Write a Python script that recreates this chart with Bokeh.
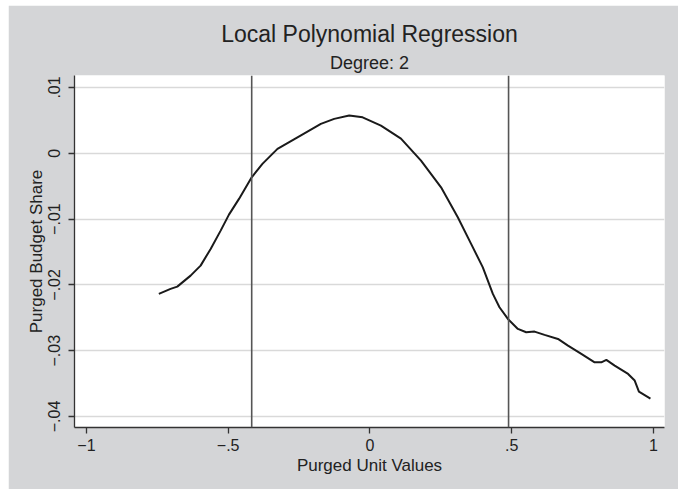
from bokeh.plotting import figure
from bokeh.layouts import row, column
from bokeh.models import Title, Span, FixedTicker, Range1d, Spacer
from bokeh.embed import file_html
from bokeh.resources import INLINE

# ---- data ----
x_vals = [-0.7445, -0.7032, -0.6795, -0.6325, -0.5972, -0.5618, -0.5265, -0.4972,
          -0.4618, -0.4170, -0.3792, -0.3261, -0.2555, -0.1731, -0.1261, -0.0731,
          -0.0258, 0.0389, 0.1095, 0.1802, 0.2509, 0.3099, 0.3569, 0.3982, 0.4336,
          0.4569, 0.4866, 0.5219, 0.5512, 0.5806, 0.6159, 0.6633, 0.6986, 0.7456,
          0.7926, 0.8163, 0.8339, 0.8633, 0.9106, 0.9339, 0.9488, 0.9894]
y_vals = [-0.02137, -0.02061, -0.02026, -0.01859, -0.01707, -0.01453, -0.01175, -0.00932,
          -0.00693, -0.00365, -0.00161, 0.00067, 0.00243, 0.00447, 0.00523, 0.00573,
          0.00547, 0.00421, 0.00223, -0.00111, -0.00517, -0.00973, -0.01377, -0.01733, -0.02137,
          -0.02340, -0.02517, -0.02669, -0.02720, -0.02710, -0.02760, -0.02821, -0.02923, -0.03049,
          -0.03176, -0.03176, -0.03140, -0.03226, -0.03353, -0.03454, -0.03622, -0.03728]
vlines = [-0.417, 0.489]
x_ticks = [-1, -0.5, 0, 0.5, 1]
x_tick_labels = ["\u22121", "\u2212.5", "0", ".5", "1"]
y_ticks = [0.01, 0, -0.01, -0.02, -0.03, -0.04]
y_tick_labels = [".01", "0", "\u2212.01", "\u2212.02", "\u2212.03", "\u2212.04"]

FONT = "Liberation Sans"
TXT = "#222222"
BG = "#d4d5d7"

p = figure(width=670, height=484, output_backend="svg", toolbar_location=None,
           title=None,
           x_range=Range1d(-1.042, 1.039), y_range=Range1d(-0.04167, 0.01182),
           min_border_left=66, min_border_right=14, min_border_top=70, min_border_bottom=62)

p.background_fill_color = "white"
p.border_fill_color = BG
p.outline_line_color = None

p.xgrid.visible = False
p.ygrid.grid_line_color = "#d9d9d9"
p.ygrid.grid_line_width = 1.6

p.xaxis.ticker = FixedTicker(ticks=x_ticks)
p.yaxis.ticker = FixedTicker(ticks=y_ticks)
p.xaxis.major_label_overrides = {t: l for t, l in zip(x_ticks, x_tick_labels)}
p.yaxis.major_label_overrides = {t: l for t, l in zip(y_ticks, y_tick_labels)}
p.yaxis.major_label_orientation = "vertical"

for ax in (p.xaxis, p.yaxis):
    ax.axis_line_color = "#333333"
    ax.axis_line_width = 1.3
    ax.major_tick_line_color = "#333333"
    ax.major_tick_line_width = 1.3
    ax.major_tick_out = 6
    ax.major_tick_in = 0
    ax.minor_tick_line_color = None
    ax.major_label_text_font = FONT
    ax.major_label_text_font_size = "16px"
    ax.major_label_text_color = TXT
    ax.axis_label_text_font = FONT
    ax.axis_label_text_font_size = "17px"
    ax.axis_label_text_font_style = "normal"
    ax.axis_label_text_color = TXT

p.xaxis.axis_label = "Purged Unit Values"
p.yaxis.axis_label = "Purged Budget Share"
p.xaxis.major_label_standoff = 5
p.xaxis.axis_label_standoff = 2
p.yaxis.major_label_standoff = 8
p.yaxis.axis_label_standoff = 0

for v in vlines:
    p.add_layout(Span(location=v, dimension="height", line_color="#555555", line_width=1.6))

p.line(x_vals, y_vals, line_color="#1a1a1a", line_width=2.0)

p.add_layout(Title(text="Degree: 2", align="center", text_font=FONT, text_font_size="18px",
                   text_font_style="normal", text_color=TXT, standoff=6), "above")
p.add_layout(Title(text="Local Polynomial Regression", align="center", text_font=FONT,
                   text_font_size="23px", text_font_style="normal", text_color=TXT, standoff=2), "above")

layout = row(Spacer(width=8), column(Spacer(height=5), p))

open("out.html", "w").write(file_html(layout, INLINE))
